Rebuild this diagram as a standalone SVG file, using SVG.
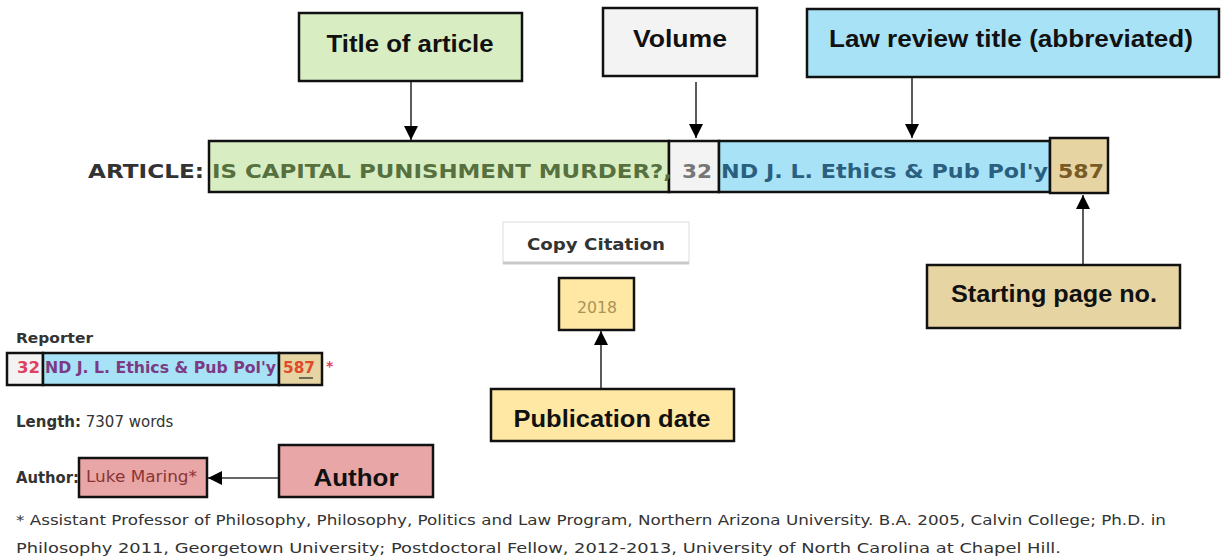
<svg xmlns="http://www.w3.org/2000/svg" width="1221" height="556" viewBox="0 0 1221 556">
<style>
.bx{stroke:#111;stroke-width:2.5}
.lbl{font-family:"Liberation Sans",Arial,sans-serif;font-weight:bold;font-size:24px;fill:#111;text-anchor:middle}
.web{font-family:"DejaVu Sans",Verdana,sans-serif}
.b{font-weight:bold}
.con{stroke:#333;stroke-width:1.6;fill:none}
.green{fill:#d9edc3}.gray{fill:#f3f3f3}.blue{fill:#a8e2f7}.tan{fill:#e6d5a3}.yel{fill:#ffe8a3}.pink{fill:#e8a6a6}
</style>
<defs>
<marker id="ahL" viewBox="0 0 14 14" refX="14" refY="7" markerWidth="14" markerHeight="14" markerUnits="userSpaceOnUse" orient="auto">
<path d="M0,0 L14,7 L0,14 z" fill="#000"/>
</marker>
</defs>
<rect width="1221" height="556" fill="#fff"/>

<g id="connectors">
<line class="con" x1="411" y1="81" x2="411" y2="140" marker-end="url(#ahL)"/>
<line class="con" x1="696" y1="82" x2="696" y2="138" marker-end="url(#ahL)"/>
<line class="con" x1="912" y1="77" x2="912" y2="138" marker-end="url(#ahL)"/>
<line class="con" x1="1083" y1="265" x2="1083" y2="195" marker-end="url(#ahL)"/>
<line class="con" x1="601" y1="390" x2="601" y2="331" marker-end="url(#ahL)"/>
<line class="con" x1="279" y1="478" x2="208" y2="478" marker-end="url(#ahL)"/>
</g>

<g id="label-title">
<rect class="bx green" x="299" y="13" width="223" height="68"/>
<text class="lbl" x="410" y="52" textLength="167" lengthAdjust="spacingAndGlyphs">Title of article</text>
</g>
<g id="label-volume">
<rect class="bx gray" x="603" y="8" width="154" height="68"/>
<text class="lbl" x="680" y="47" textLength="94" lengthAdjust="spacingAndGlyphs">Volume</text>
</g>
<g id="label-lawreview">
<rect class="bx blue" x="807" y="9" width="412" height="68"/>
<text class="lbl" x="1011" y="47" textLength="364" lengthAdjust="spacingAndGlyphs">Law review title (abbreviated)</text>
</g>
<g id="label-startpage">
<rect class="bx tan" x="927" y="265" width="253" height="63"/>
<text class="lbl" x="1054" y="302" textLength="206" lengthAdjust="spacingAndGlyphs">Starting page no.</text>
</g>
<g id="label-pubdate">
<rect class="bx yel" x="491" y="389" width="243" height="52"/>
<text class="lbl" x="612" y="427" textLength="197" lengthAdjust="spacingAndGlyphs">Publication date</text>
</g>
<g id="label-author">
<rect class="bx pink" x="279" y="445" width="154" height="52"/>
<text class="lbl" x="356" y="486" textLength="85" lengthAdjust="spacingAndGlyphs">Author</text>
</g>

<g id="article-row">
<text class="web b" x="88" y="178" font-size="20" fill="#333" textLength="116" lengthAdjust="spacingAndGlyphs">ARTICLE:</text>
<rect class="bx green" x="209" y="141" width="460" height="51"/>
<rect class="bx gray" x="669" y="141" width="50" height="51"/>
<rect class="bx blue" x="719" y="141" width="331" height="51"/>
<rect class="bx tan" x="1050" y="138" width="58" height="55"/>
<text class="web b" x="212" y="178" font-size="20" fill="#56703e" textLength="460" lengthAdjust="spacingAndGlyphs">IS CAPITAL PUNISHMENT MURDER?,</text>
<text class="web b" x="682" y="178" font-size="20" fill="#777" textLength="30" lengthAdjust="spacingAndGlyphs">32</text>
<text class="web b" x="721" y="178" font-size="20" fill="#2a5f80" textLength="327" lengthAdjust="spacingAndGlyphs">ND J. L. Ethics &amp; Pub Pol'y</text>
<text class="web b" x="1058" y="178" font-size="20" fill="#7a5a24" textLength="46" lengthAdjust="spacingAndGlyphs">587</text>
</g>

<g id="copy-citation">
<rect x="503" y="222" width="186" height="41" fill="#fff" stroke="#ddd" stroke-width="1"/>
<line x1="503" y1="263" x2="689" y2="263" stroke="#c8c8c8" stroke-width="3"/>
<text class="web b" x="596" y="250" font-size="16" fill="#333" text-anchor="middle" textLength="138" lengthAdjust="spacingAndGlyphs">Copy Citation</text>
</g>

<g id="pubdate-value">
<rect class="bx yel" x="559" y="278" width="75" height="52"/>
<text class="web" x="597" y="313" font-size="15" fill="#a8945a" text-anchor="middle" textLength="40" lengthAdjust="spacingAndGlyphs">2018</text>
</g>

<g id="reporter">
<text class="web b" x="16" y="343" font-size="14" fill="#333" textLength="77" lengthAdjust="spacingAndGlyphs">Reporter</text>
<rect class="bx gray" x="7" y="353" width="36" height="32"/>
<rect class="bx blue" x="43" y="353" width="236" height="32"/>
<rect class="bx tan" x="279" y="353" width="43" height="32"/>
<text class="web b" x="17" y="373" font-size="15" fill="#e0405f" textLength="23" lengthAdjust="spacingAndGlyphs">32</text>
<text class="web b" x="45" y="373" font-size="15" fill="#7b3a82" textLength="231" lengthAdjust="spacingAndGlyphs">ND J. L. Ethics &amp; Pub Pol'y</text>
<text class="web b" x="283" y="373" font-size="15" fill="#e04a2a" textLength="32" lengthAdjust="spacingAndGlyphs">587</text>
<line x1="299" y1="378" x2="313" y2="378" stroke="#222" stroke-width="1.2"/>
<text class="web b" x="326" y="371" font-size="14" fill="#e0405f">*</text>
</g>

<g id="length">
<text class="web" x="16" y="427" font-size="15" fill="#333"><tspan class="b">Length:</tspan> 7307 words</text>
</g>

<g id="author-row">
<text class="web b" x="16" y="483" font-size="15" fill="#333" textLength="63" lengthAdjust="spacingAndGlyphs">Author:</text>
<rect class="bx pink" x="79" y="458" width="128" height="39"/>
<text class="web" x="86" y="482" font-size="15" fill="#8a3535" textLength="111" lengthAdjust="spacingAndGlyphs">Luke Maring*</text>
</g>

<g id="footnote">
<text class="web" x="16" y="525" font-size="14" fill="#333" textLength="1150" lengthAdjust="spacingAndGlyphs">* Assistant Professor of Philosophy, Philosophy, Politics and Law Program, Northern Arizona University. B.A. 2005, Calvin College; Ph.D. in</text>
<text class="web" x="16" y="553" font-size="14" fill="#333" textLength="1045" lengthAdjust="spacingAndGlyphs">Philosophy 2011, Georgetown University; Postdoctoral Fellow, 2012-2013, University of North Carolina at Chapel Hill.</text>
</g>
</svg>
